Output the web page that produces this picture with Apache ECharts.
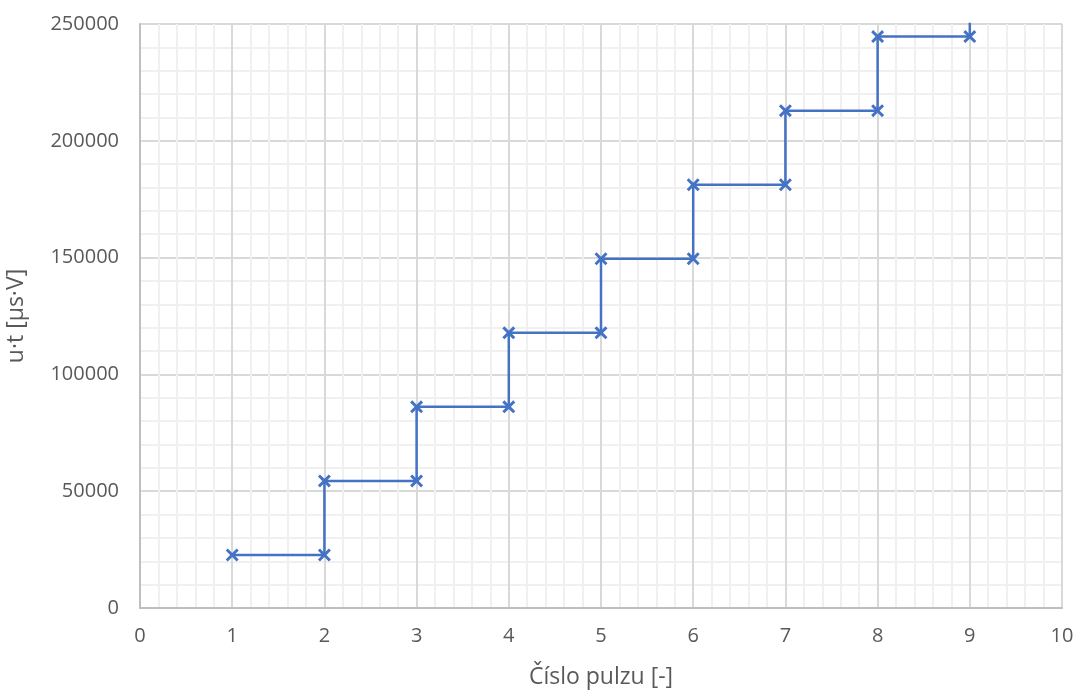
<!DOCTYPE html>
<html>
<head>
<meta charset="utf-8">
<script src="https://cdn.jsdelivr.net/npm/echarts@6/dist/echarts.min.js"></script>
<style>
html,body{margin:0;padding:0;background:#fff;}
#chart{width:1077px;height:693px;}
</style>
</head>
<body>
<div id="chart"></div>
<script>
// cislo pulzu
var pulses = [1, 2, 3, 4, 5, 6, 7, 8, 9];
// u*t po kazdem pulzu
var levels = [22700, 54400, 86100, 117800, 149500, 181200, 212900, 244600, 276300];
var xTicks = [0, 1, 2, 3, 4, 5, 6, 7, 8, 9, 10];
var yTicks = [0, 50000, 100000, 150000, 200000, 250000];

// schody: vodorovne na dalsi pulz, pak svisle na novou hodnotu
var stepData = [];
for (var i = 0; i < pulses.length; i++) {
    if (i > 0) stepData.push([pulses[i], levels[i - 1]]);
    stepData.push([pulses[i], levels[i]]);
}

var crossPath = 'path://M0,1.6L1.6,0L5,3.4L8.4,0L10,1.6L6.6,5L10,8.4L8.4,10L5,6.6L1.6,10L0,8.4L3.4,5Z';
var labelColor = '#595959';
var font = 'Open Sans';

var chart = echarts.init(document.getElementById('chart'));
chart.setOption({
    animation: false,
    grid: {left: 140, right: 15, top: 24, bottom: 85, containLabel: false, outerBoundsMode: 'none'},
    xAxis: {
        type: 'value',
        min: xTicks[0], max: xTicks[xTicks.length - 1], interval: 1,
        name: 'Číslo pulzu [-]',
        nameLocation: 'middle', nameGap: 58,
        nameTextStyle: {color: labelColor, fontSize: 23, fontFamily: font},
        axisLine: {show: true, lineStyle: {color: '#bfbfbf', width: 2}},
        axisTick: {show: false},
        axisLabel: {color: labelColor, fontSize: 20, fontFamily: font, margin: 18},
        splitLine: {show: true, lineStyle: {color: '#d9d9d9', width: 2}},
        minorTick: {show: false, splitNumber: 5},
        minorSplitLine: {show: true, lineStyle: {color: '#f0f0f0', width: 2}}
    },
    yAxis: {
        type: 'value',
        min: yTicks[0], max: yTicks[yTicks.length - 1], interval: 50000,
        name: 'u·t [µs·V]',
        nameLocation: 'middle', nameGap: 112,
        nameTextStyle: {color: labelColor, fontSize: 23, fontFamily: font},
        axisLine: {show: true, lineStyle: {color: '#bfbfbf', width: 2}},
        axisTick: {show: false},
        axisLabel: {
            color: labelColor, fontSize: 20, fontFamily: font, margin: 21,
            formatter: function (v) { return String(v); }
        },
        splitLine: {show: true, lineStyle: {color: '#d9d9d9', width: 2}},
        minorTick: {show: false, splitNumber: 5},
        minorSplitLine: {show: true, lineStyle: {color: '#f0f0f0', width: 2}}
    },
    series: [{
        type: 'line',
        data: stepData,
        clip: true,
        symbol: crossPath,
        symbolSize: 13,
        showAllSymbol: true,
        lineStyle: {color: '#4472C4', width: 2.5},
        itemStyle: {color: '#4472C4', borderWidth: 0}
    }]
});
</script>
</body>
</html>
